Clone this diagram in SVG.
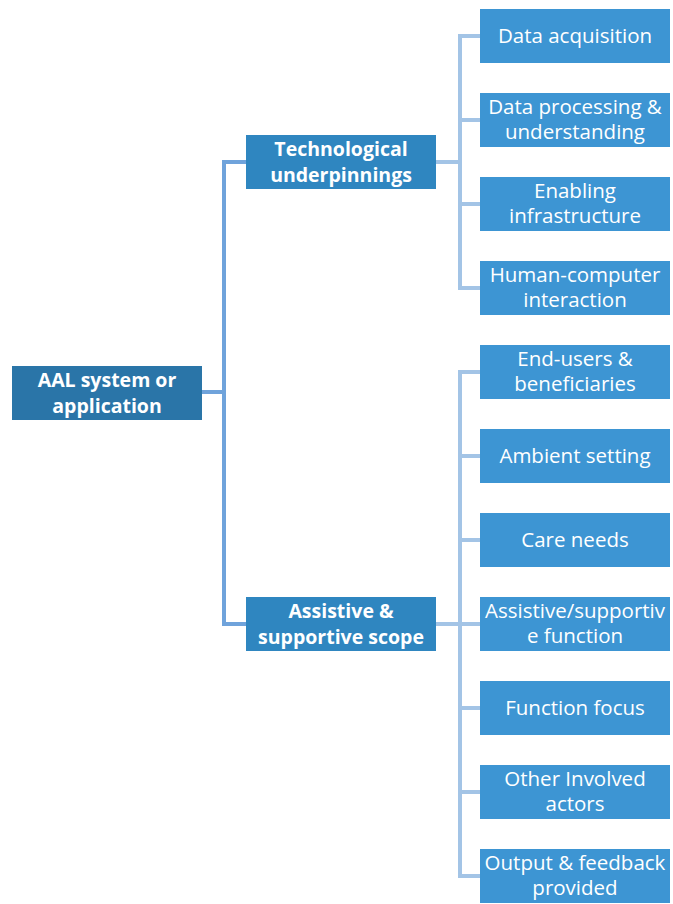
<svg xmlns="http://www.w3.org/2000/svg" width="673" height="904" viewBox="0 0 673 904">
<style>
.root{fill:#2A75A8}
.mid{fill:#2F86C0}
.leaf{fill:#3D95D3}
.t{font-family:"Open Sans","Liberation Sans",sans-serif;fill:#fff;text-anchor:middle}
.tb{font-weight:bold;font-size:19.5px}
.tl{font-size:20.5px}
.c1{fill:none;stroke:#6FA3DB;stroke-width:4}
.c2{fill:none;stroke:#A3C4E6;stroke-width:4}
</style>
<rect width="673" height="904" fill="#fff"/>
<g id="connectors">
<path class="c1" d="M202,392 H224 M246,162 H224 V624 H246"/>
<path class="c2" d="M436,162 H460 M480,36 H460 V288 H480 M460,120 H480 M460,204 H480"/>
<path class="c2" d="M436,624 H460 M480,372 H460 V876 H480 M460,456 H480 M460,540 H480 M460,624 H480 M460,708 H480 M460,792 H480"/>
</g>
<g id="root"><rect class="root" x="12" y="366" width="190" height="54"/><text class="t tb" x="107" y="387">AAL system or</text><text class="t tb" x="107" y="413">application</text></g>
<g id="tech"><rect class="mid" x="246" y="135" width="190" height="54"/><text class="t tb" x="341" y="156">Technological</text><text class="t tb" x="341" y="182">underpinnings</text></g>
<g id="assist"><rect class="mid" x="246" y="597" width="190" height="54"/><text class="t tb" x="341" y="618">Assistive &amp;</text><text class="t tb" x="341" y="644">supportive scope</text></g>
<g id="leaf1"><rect class="leaf" x="480" y="9" width="190" height="54"/><text class="t tl" x="575" y="43">Data acquisition</text></g>
<g id="leaf2"><rect class="leaf" x="480" y="93" width="190" height="54"/><text class="t tl" x="575" y="114">Data processing &amp;</text><text class="t tl" x="575" y="139">understanding</text></g>
<g id="leaf3"><rect class="leaf" x="480" y="177" width="190" height="54"/><text class="t tl" x="575" y="198">Enabling</text><text class="t tl" x="575" y="223">infrastructure</text></g>
<g id="leaf4"><rect class="leaf" x="480" y="261" width="190" height="54"/><text class="t tl" x="575" y="282">Human-computer</text><text class="t tl" x="575" y="307">interaction</text></g>
<g id="leaf5"><rect class="leaf" x="480" y="345" width="190" height="54"/><text class="t tl" x="575" y="366">End-users &amp;</text><text class="t tl" x="575" y="391">beneficiaries</text></g>
<g id="leaf6"><rect class="leaf" x="480" y="429" width="190" height="54"/><text class="t tl" x="575" y="463">Ambient setting</text></g>
<g id="leaf7"><rect class="leaf" x="480" y="513" width="190" height="54"/><text class="t tl" x="575" y="547">Care needs</text></g>
<g id="leaf8"><rect class="leaf" x="480" y="597" width="190" height="54"/><text class="t tl" x="575" y="618">Assistive/supportiv</text><text class="t tl" x="575" y="643">e function</text></g>
<g id="leaf9"><rect class="leaf" x="480" y="681" width="190" height="54"/><text class="t tl" x="575" y="715">Function focus</text></g>
<g id="leaf10"><rect class="leaf" x="480" y="765" width="190" height="54"/><text class="t tl" x="575" y="786">Other Involved</text><text class="t tl" x="575" y="811">actors</text></g>
<g id="leaf11"><rect class="leaf" x="480" y="849" width="190" height="54"/><text class="t tl" x="575" y="870">Output &amp; feedback</text><text class="t tl" x="575" y="895">provided</text></g>
</svg>
